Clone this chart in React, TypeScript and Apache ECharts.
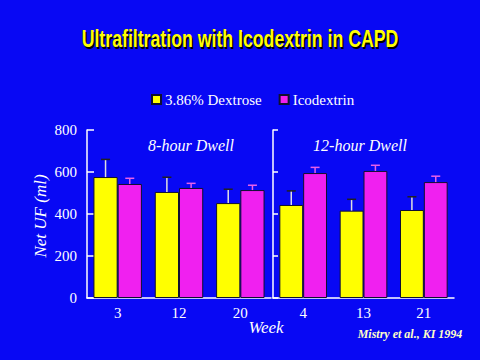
import React, { useEffect, useRef } from "react";
import * as echarts from "echarts";

const seriesNames = ["3.86% Dextrose", "Icodextrin"];
const weeks8h = ["3", "12", "20"];
const weeks12h = ["4", "13", "21"];
const dextrose8h = [576, 505, 452];
const dextrose8hErr = [84, 70, 66];
const icodextrin8h = [543, 524, 514];
const icodextrin8hErr = [27, 22, 23];
const dextrose12h = [443, 416, 419];
const dextrose12hErr = [67, 54, 63];
const icodextrin12h = [595, 605, 552];
const icodextrin12hErr = [27, 27, 28];
const yTicks = { min: 0, max: 800, interval: 200 };
const titleText = "Ultrafiltration with Icodextrin in CAPD";

const BG = "#0808f4";
const YEL = "#ffff00";
const MAG = "#f020f0";
const GAP = 0.21;

function errSeries(values: number[], errs: number[], axisIndex: number, side: number, stem: string, cap: string) {
  return {
    type: "custom",
    xAxisIndex: axisIndex,
    yAxisIndex: axisIndex,
    z: 5,
    silent: true,
    data: values.map((v, i) => [i, v, v + errs[i]]),
    renderItem: (params: any, api: any) => {
      const band = api.size([1, 0])[0];
      const bw = (band * (1 - GAP)) / 2;
      const base = api.coord([api.value(0), api.value(1)]);
      const top = api.coord([api.value(0), api.value(2)]);
      const x = base[0] + (side * bw) / 2;
      const half = 4.5;
      return {
        type: "group",
        children: [
          { type: "line", shape: { x1: x, y1: base[1], x2: x, y2: top[1] }, style: { stroke: stem, lineWidth: 1.5 } },
          { type: "line", shape: { x1: x - half, y1: top[1], x2: x + half, y2: top[1] }, style: { stroke: cap, lineWidth: 1.5 } },
        ],
      };
    },
  };
}

export default function App() {
  const ref = useRef<HTMLDivElement>(null);
  useEffect(() => {
    if (!ref.current) return;
    const chart = echarts.init(ref.current, null, { renderer: "svg" });
    const serif = "'Liberation Serif', 'Times New Roman', serif";
    const titleFont = "bold 23px 'Liberation Sans', Arial, sans-serif";
    const yAxisBase = {
      type: "value",
      min: yTicks.min,
      max: yTicks.max,
      interval: yTicks.interval,
      splitLine: { show: false },
      axisLine: { show: true, lineStyle: { color: "#ffffff", width: 1.5 } },
    };
    const xAxisBase = {
      type: "category",
      axisLine: { show: true, lineStyle: { color: "#ffffff", width: 1.5 } },
      axisTick: { show: false },
      axisLabel: { color: "#ffffff", fontFamily: serif, fontSize: 15, margin: 7 },
    };
    chart.setOption({
      animation: false,
      backgroundColor: BG,
      legend: {
        data: seriesNames,
        left: 146,
        top: 87,
        itemWidth: 9,
        itemHeight: 9,
        itemGap: 17,
        icon: "rect",
        textStyle: { color: "#ffffff", fontFamily: serif, fontSize: 15, padding: [0, 0, 0, -1] },
      },
      grid: [
        { left: 87, top: 130, width: 184, height: 168 },
        { left: 273, top: 130, width: 181, height: 168 },
      ],
      xAxis: [
        { ...xAxisBase, gridIndex: 0, data: weeks8h },
        { ...xAxisBase, gridIndex: 1, data: weeks12h },
      ],
      yAxis: [
        {
          ...yAxisBase,
          gridIndex: 0,
          axisTick: { show: true, inside: true, length: 7, lineStyle: { color: "#ffffff", width: 1.5 } },
          axisLabel: { color: "#ffffff", fontFamily: serif, fontSize: 15, margin: 10 },
        },
        {
          ...yAxisBase,
          gridIndex: 1,
          axisTick: { show: true, inside: true, length: 5, lineStyle: { color: "#ffffff", width: 1.5 } },
          axisLabel: { show: false },
        },
      ],
      series: [
        {
          name: seriesNames[0], type: "bar", xAxisIndex: 0, yAxisIndex: 0, data: dextrose8h,
          barGap: "0%", barCategoryGap: GAP * 100 + "%",
          itemStyle: { color: YEL, borderColor: "#101030", borderWidth: 1 },
        },
        {
          name: seriesNames[1], type: "bar", xAxisIndex: 0, yAxisIndex: 0, data: icodextrin8h,
          barGap: "0%", barCategoryGap: GAP * 100 + "%",
          itemStyle: { color: MAG, borderColor: "#101030", borderWidth: 1 },
        },
        {
          name: seriesNames[0], type: "bar", xAxisIndex: 1, yAxisIndex: 1, data: dextrose12h,
          barGap: "0%", barCategoryGap: GAP * 100 + "%",
          itemStyle: { color: YEL, borderColor: "#101030", borderWidth: 1 },
        },
        {
          name: seriesNames[1], type: "bar", xAxisIndex: 1, yAxisIndex: 1, data: icodextrin12h,
          barGap: "0%", barCategoryGap: GAP * 100 + "%",
          itemStyle: { color: MAG, borderColor: "#101030", borderWidth: 1 },
        },
        errSeries(dextrose8h, dextrose8hErr, 0, -1, "#e0e0e0", "#202020"),
        errSeries(icodextrin8h, icodextrin8hErr, 0, 1, "#e860e8", "#e860e8"),
        errSeries(dextrose12h, dextrose12hErr, 1, -1, "#e0e0e0", "#202020"),
        errSeries(icodextrin12h, icodextrin12hErr, 1, 1, "#e860e8", "#e860e8"),
      ],
      graphic: [
        {
          type: "text", x: 241.5, y: 40.5, scaleX: 0.77,
          style: { text: titleText, fill: "#000000", font: titleFont, textAlign: "center", textVerticalAlign: "middle" },
        },
        {
          type: "text", x: 240, y: 39, scaleX: 0.77,
          style: { text: titleText, fill: YEL, font: titleFont, textAlign: "center", textVerticalAlign: "middle" },
        },
        {
          type: "text", x: 40, y: 216, rotation: Math.PI / 2,
          style: { text: "Net UF (ml)", fill: "#ffffff", font: "italic 17px " + serif, textAlign: "center", textVerticalAlign: "middle" },
        },
        {
          type: "text", x: 191, y: 145,
          style: { text: "8-hour Dwell", fill: "#ffffff", font: "italic 16px " + serif, textAlign: "center", textVerticalAlign: "middle" },
        },
        {
          type: "text", x: 360, y: 145,
          style: { text: "12-hour Dwell", fill: "#ffffff", font: "italic 16px " + serif, textAlign: "center", textVerticalAlign: "middle" },
        },
        {
          type: "text", x: 266, y: 327,
          style: { text: "Week", fill: "#ffffff", font: "italic 17px " + serif, textAlign: "center", textVerticalAlign: "middle" },
        },
        {
          type: "text", x: 410, y: 334,
          style: { text: "Mistry et al., KI 1994", fill: "#ffffc8", font: "italic bold 12px " + serif, textAlign: "center", textVerticalAlign: "middle" },
        },
      ],
    });
    return () => chart.dispose();
  }, []);
  return <div ref={ref} style={{ width: 480, height: 360, position: "absolute", left: 0, top: 0 }} />;
}
